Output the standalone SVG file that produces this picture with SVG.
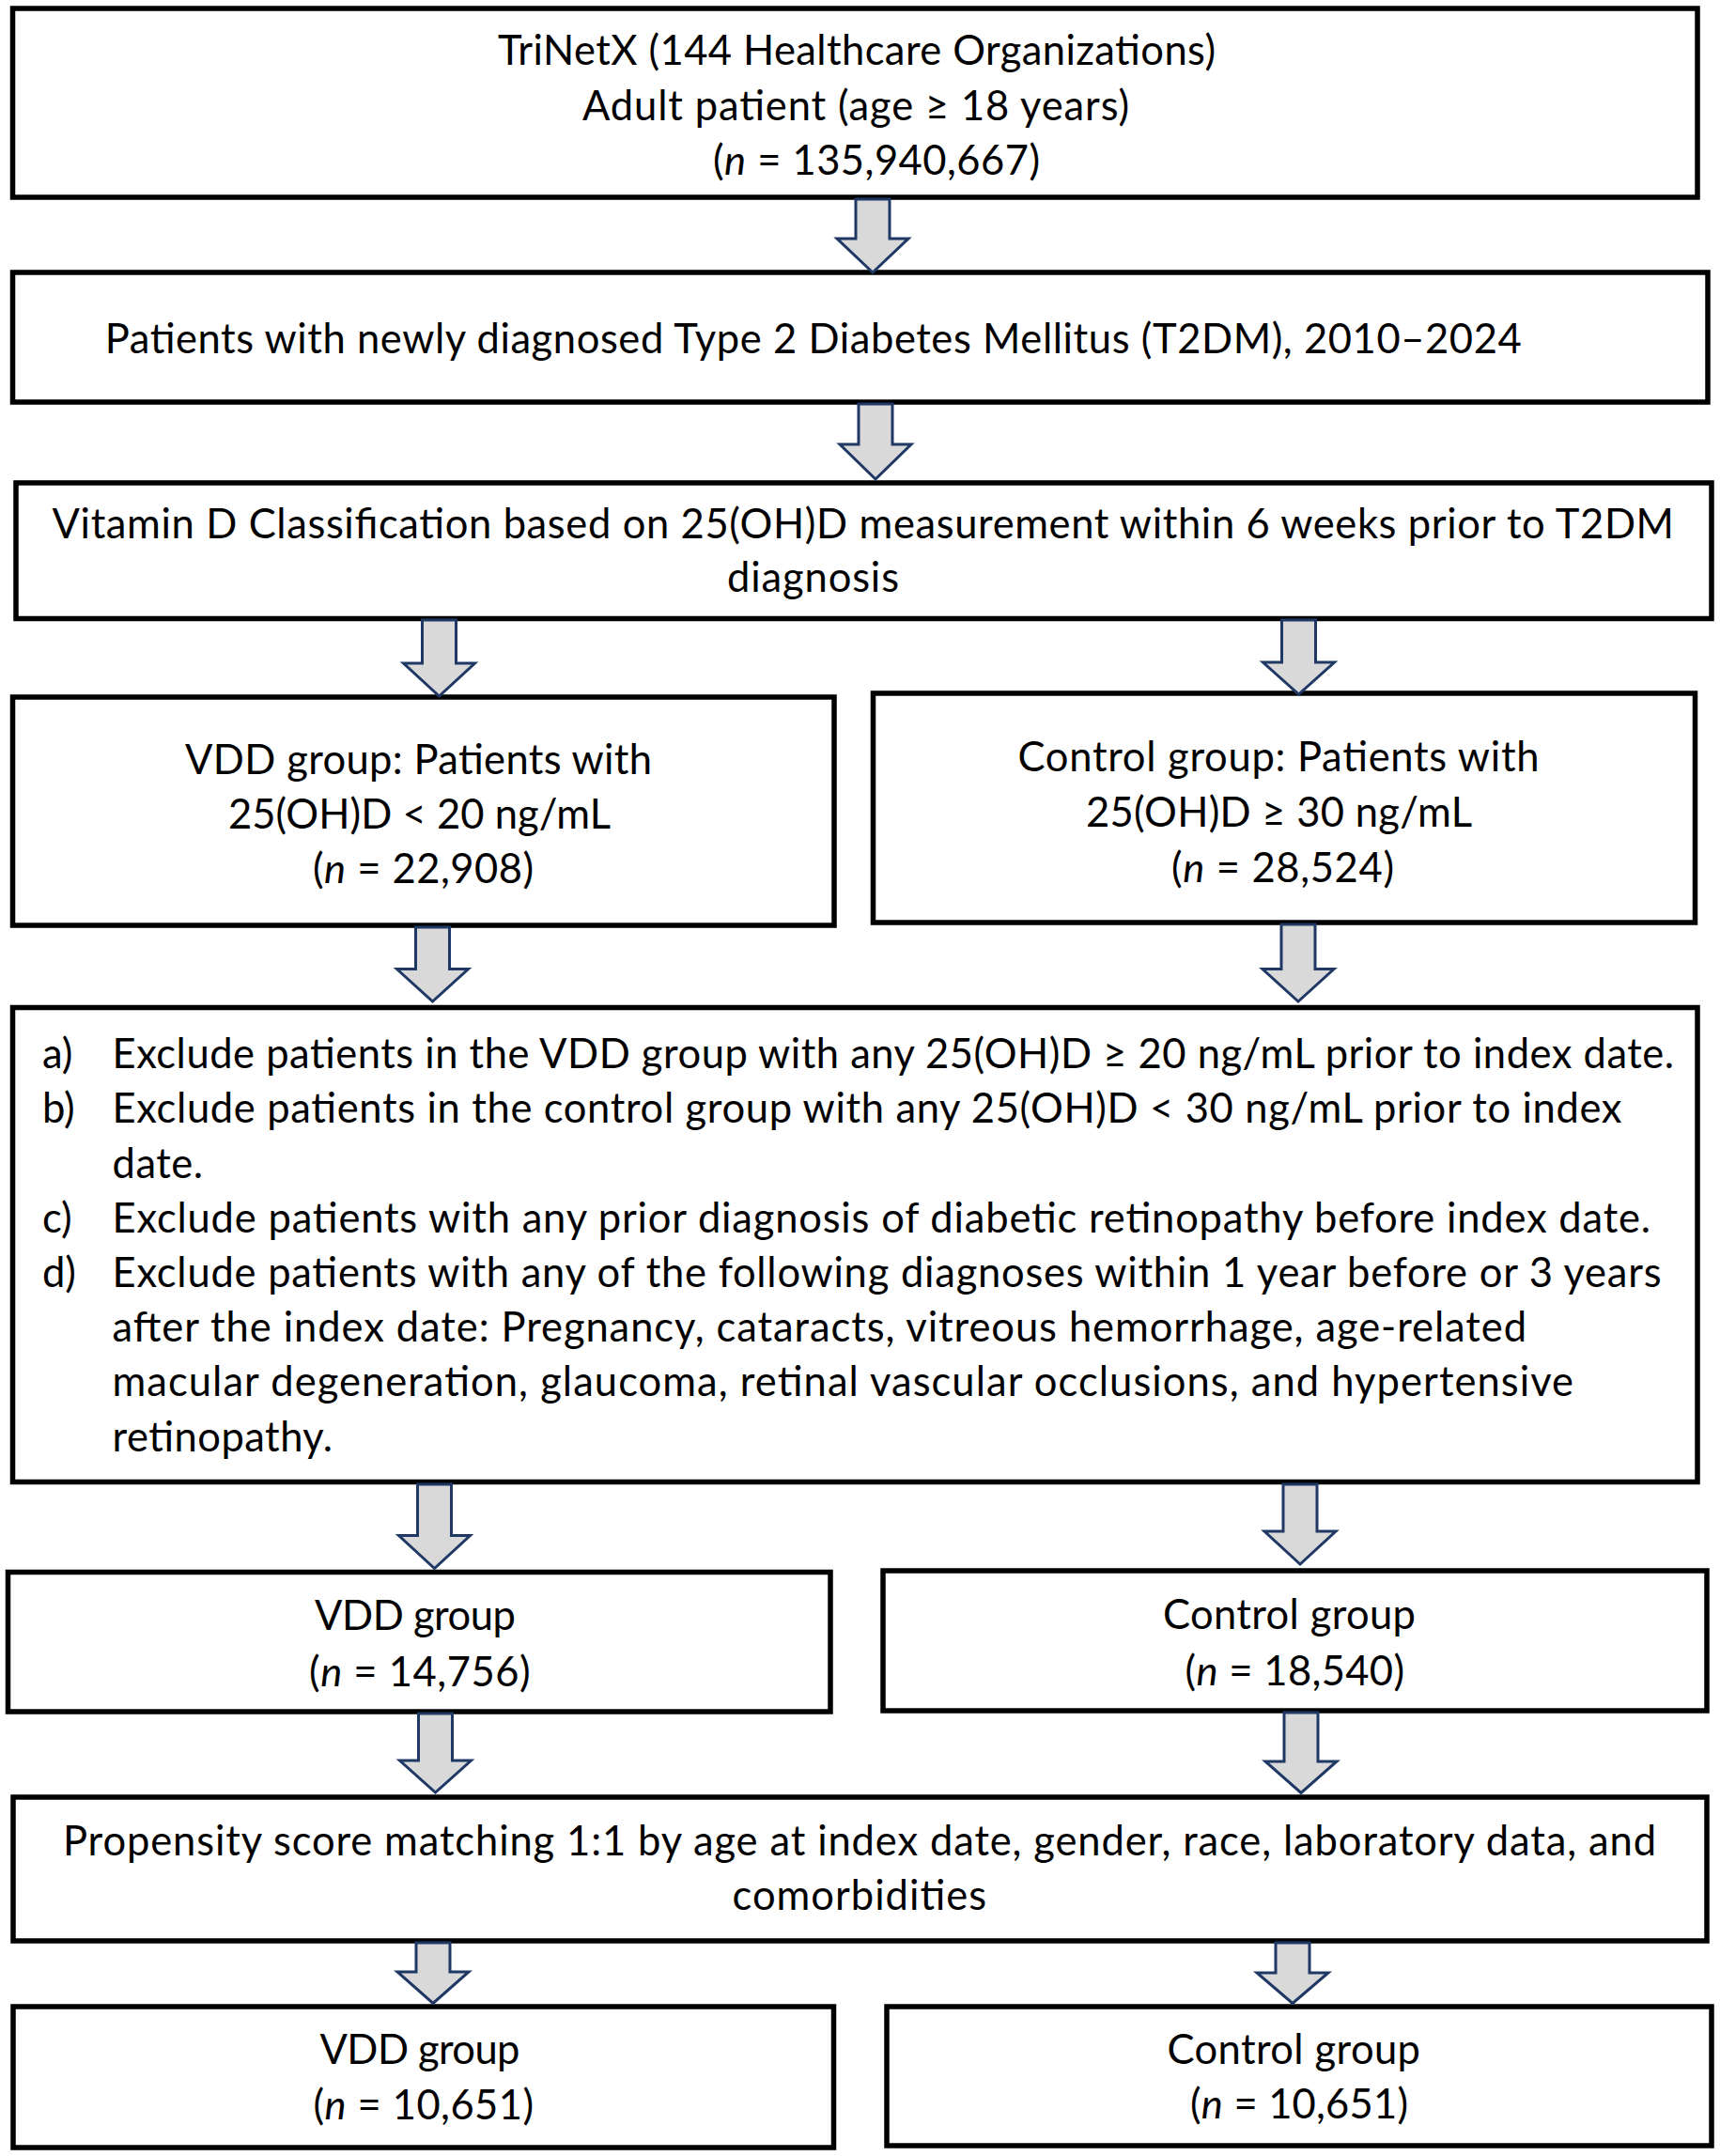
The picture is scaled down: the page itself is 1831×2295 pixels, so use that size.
<svg xmlns="http://www.w3.org/2000/svg" width="1831" height="2295" viewBox="0 0 1831 2295">
<defs>
<style>
.box{fill:#fff;stroke:#000;stroke-width:5.5;stroke-linejoin:miter}
.t{font-family:Lato,"Open Sans","Liberation Sans",sans-serif;font-size:43.5px;fill:#000}
.i{font-style:italic}
.arr{fill:#D9D9D9;stroke:#1F3864;stroke-width:3;stroke-linejoin:miter}
</style>
</defs>
<rect width="1831" height="2295" fill="#fff"/>

<g id="node-trinetx">
<rect class="box" x="13.5" y="9" width="1793.5" height="201"/>
<text class="t" x="530" y="69" textLength="764">TriNetX (144 Healthcare Organizations)</text>
<text class="t" x="620" y="127.5" textLength="582">Adult patient (age ≥ 18 years)</text>
<text class="t" x="759" y="186" textLength="348">(<tspan class="i">n</tspan> = 135,940,667)</text>
</g>

<g id="node-t2dm">
<rect class="box" x="13.5" y="290" width="1804.5" height="138"/>
<text class="t" x="111.7" y="376" textLength="1508">Patients with newly diagnosed Type 2 Diabetes Mellitus (T2DM), 2010–2024</text>
</g>

<g id="node-vitd">
<rect class="box" x="17" y="514" width="1805" height="144.5"/>
<text class="t" x="55.5" y="573" textLength="1726.5">Vitamin D Classification based on 25(OH)D measurement within 6 weeks prior to T2DM</text>
<text class="t" x="774" y="630" textLength="183">diagnosis</text>
</g>

<g id="node-vdd1">
<rect class="box" x="13.5" y="742" width="874.5" height="243"/>
<text class="t" x="197" y="824" textLength="497">VDD group: Patients with</text>
<text class="t" x="243" y="882" textLength="407">25(OH)D &lt; 20 ng/mL</text>
<text class="t" x="333" y="940" textLength="235">(<tspan class="i">n</tspan> = 22,908)</text>
</g>

<g id="node-ctrl1">
<rect class="box" x="929.5" y="738" width="875" height="244"/>
<text class="t" x="1083.5" y="821" textLength="555">Control group: Patients with</text>
<text class="t" x="1156" y="880" textLength="411">25(OH)D ≥ 30 ng/mL</text>
<text class="t" x="1247" y="939" textLength="237">(<tspan class="i">n</tspan> = 28,524)</text>
</g>

<g id="node-exclusion">
<rect class="box" x="13.5" y="1072.5" width="1793.5" height="505"/>
<text class="t" x="45" y="1137">a)</text>
<text class="t" x="45" y="1195">b)</text>
<text class="t" x="45" y="1312">c)</text>
<text class="t" x="45" y="1370">d)</text>
<text class="t" x="119.5" y="1137" textLength="1662.5">Exclude patients in the VDD group with any 25(OH)D ≥ 20 ng/mL prior to index date.</text>
<text class="t" x="119.5" y="1195" textLength="1607">Exclude patients in the control group with any 25(OH)D &lt; 30 ng/mL prior to index</text>
<text class="t" x="119.5" y="1253.5" textLength="96.5">date.</text>
<text class="t" x="119.5" y="1312" textLength="1637.5">Exclude patients with any prior diagnosis of diabetic retinopathy before index date.</text>
<text class="t" x="119.5" y="1370" textLength="1649">Exclude patients with any of the following diagnoses within 1 year before or 3 years</text>
<text class="t" x="119.5" y="1428" textLength="1505.5">after the index date: Pregnancy, cataracts, vitreous hemorrhage, age-related</text>
<text class="t" x="119.5" y="1486" textLength="1555.5">macular degeneration, glaucoma, retinal vascular occlusions, and hypertensive</text>
<text class="t" x="119.5" y="1545" textLength="234.5">retinopathy.</text>
</g>

<g id="node-vdd2">
<rect class="box" x="8.5" y="1673.5" width="875.5" height="148.5"/>
<text class="t" x="335" y="1735" textLength="214">VDD group</text>
<text class="t" x="329" y="1795" textLength="235.5">(<tspan class="i">n</tspan> = 14,756)</text>
</g>

<g id="node-ctrl2">
<rect class="box" x="940" y="1672" width="877" height="149"/>
<text class="t" x="1238" y="1734" textLength="269">Control group</text>
<text class="t" x="1261.5" y="1794" textLength="233.5">(<tspan class="i">n</tspan> = 18,540)</text>
</g>

<g id="node-psm">
<rect class="box" x="14" y="1913" width="1803" height="153"/>
<text class="t" x="67" y="1975" textLength="1696">Propensity score matching 1:1 by age at index date, gender, race, laboratory data, and</text>
<text class="t" x="779.5" y="2033" textLength="270.5">comorbidities</text>
</g>

<g id="node-vdd3">
<rect class="box" x="14" y="2136" width="873.5" height="150"/>
<text class="t" x="340.5" y="2197" textLength="213">VDD group</text>
<text class="t" x="333.5" y="2256" textLength="234.5">(<tspan class="i">n</tspan> = 10,651)</text>
</g>

<g id="node-ctrl3">
<rect class="box" x="944" y="2136" width="878" height="148"/>
<text class="t" x="1242.5" y="2197" textLength="269.5">Control group</text>
<text class="t" x="1267" y="2255" textLength="232">(<tspan class="i">n</tspan> = 10,651)</text>
</g>

<g id="connectors">
<path class="arr" d="M911,212 H947 V254 H967 L929,290 L891,254 H911 Z"/>
<path class="arr" d="M914,430 H950 V473 H970 L932,510 L894,473 H914 Z"/>
<path class="arr" d="M449.5,660 H485.5 V706 H505.5 L467.5,741 L429.5,706 H449.5 Z"/>
<path class="arr" d="M1364.5,660 H1400.5 V705 H1420.5 L1382.5,739 L1344.5,705 H1364.5 Z"/>
<path class="arr" d="M442.5,987 H478.5 V1031.5 H498.5 L460.5,1066 L422.5,1031.5 H442.5 Z"/>
<path class="arr" d="M1364,984 H1400 V1031.5 H1420 L1382,1066 L1344,1031.5 H1364 Z"/>
<path class="arr" d="M444.5,1580 H480.5 V1634.5 H500.5 L462.5,1669.5 L424.5,1634.5 H444.5 Z"/>
<path class="arr" d="M1366,1580 H1402 V1630 H1422 L1384,1665 L1346,1630 H1366 Z"/>
<path class="arr" d="M445.5,1824 H481.5 V1874 H501.5 L463.5,1908 L425.5,1874 H445.5 Z"/>
<path class="arr" d="M1367,1823 H1403 V1875 H1423 L1385,1908.5 L1347,1875 H1367 Z"/>
<path class="arr" d="M443,2068 H479 V2099 H499 L461,2132.5 L423,2099 H443 Z"/>
<path class="arr" d="M1358,2068 H1394 V2100 H1414 L1376,2132.5 L1338,2100 H1358 Z"/>
</g>
</svg>
